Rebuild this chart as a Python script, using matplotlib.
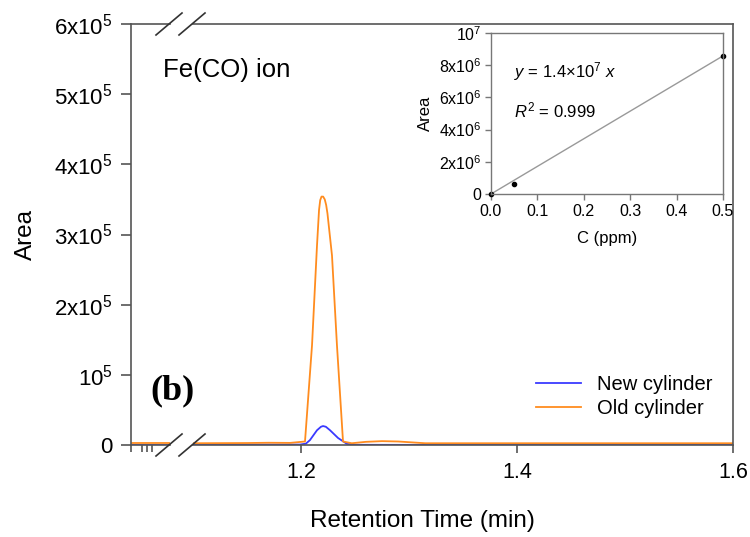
import numpy as np
import matplotlib
matplotlib.use("Agg")
import matplotlib.pyplot as plt
from matplotlib.lines import Line2D

plt.rcParams['font.family'] = ['Liberation Sans', 'DejaVu Sans']
plt.rcParams['mathtext.fontset'] = 'custom'
plt.rcParams['mathtext.rm'] = 'Liberation Sans'
plt.rcParams['mathtext.it'] = 'Liberation Sans:italic'
plt.rcParams['mathtext.default'] = 'regular'

# ---- data ----
new_t = [1.10, 1.15, 1.199, 1.2046, 1.2083, 1.2148, 1.2185, 1.2204, 1.2230, 1.2269, 1.2343, 1.2426, 1.25, 1.30, 1.40, 1.50, 1.60]
new_a = [500, 500, 600, 2000, 7000, 21000, 26000, 27000, 26000, 21000, 10000, 1500, 300, 200, 200, 200, 200]

old_t = [1.10, 1.15, 1.17, 1.19, 1.2037, 1.2102, 1.2148, 1.2167, 1.2178, 1.2190, 1.2205, 1.2220, 1.2233, 1.2245,
         1.2287, 1.2333, 1.2389, 1.247, 1.26, 1.275, 1.29, 1.30, 1.315, 1.40, 1.50, 1.60]
old_a = [2500, 2800, 3200, 3000, 5000, 142000, 284000, 335000, 349000, 354000, 354000, 350000, 342000, 330000,
         270000, 142000, 5000, 2500, 4500, 5500, 5000, 4000, 2500, 2500, 2500, 2500]

left_new = [500, 500]
left_old = [2500, 2500]

conc = [0.0, 0.05, 0.5]
area_cal = [0.0, 6.4e5, 8.6e6]

yticks = [0, 1e5, 2e5, 3e5, 4e5, 5e5, 6e5]
ytick_labels = ['0', '10$^5$', '2x10$^5$', '3x10$^5$', '4x10$^5$', '5x10$^5$', '6x10$^5$']
xticks = [1.2, 1.4, 1.6]
in_yticks = [0, 2e6, 4e6, 6e6, 8e6, 1e7]
in_ylabels = ['0', '2x10$^6$', '4x10$^6$', '6x10$^6$', '8x10$^6$', '10$^7$']
in_xticks = [0.0, 0.1, 0.2, 0.3, 0.4, 0.5]

blue = '#3a3aff'
orange = '#ff8c1f'
spine_c = '#555555'

fig = plt.figure(figsize=(7.5, 5.37), dpi=100)
W, H = 750, 537

def pos(x0, x1, y0, y1):
    return [x0 / W, 1 - y1 / H, (x1 - x0) / W, (y1 - y0) / H]

axL = fig.add_axes(pos(131, 170, 24, 445))
axR = fig.add_axes(pos(193, 733, 24, 445))

for ax in (axL, axR):
    ax.set_ylim(0, 6e5)
    ax.set_facecolor('none')
    for s in ax.spines.values():
        s.set_color(spine_c)
        s.set_linewidth(1.2)

axL.plot([0, 1], left_new, color=blue, lw=1.3)
axL.plot([0, 1], left_old, color=orange, lw=1.3)
axL.set_xlim(0, 1)
axL.spines['right'].set_visible(False)
axL.set_xticks([0, 0.27, 0.40, 0.53])
axL.set_xticklabels([])
axL.tick_params(axis='x', direction='out', length=5, color=spine_c, width=1.2)
axL.set_yticks(yticks)
axL.set_yticklabels(ytick_labels, fontsize=16)
axL.tick_params(axis='y', direction='out', length=7, color=spine_c, width=1.2, pad=6)
axL.set_ylabel('Area', fontsize=17.5)
axL.yaxis.set_label_coords(-2.4, 0.5)

axR.plot(new_t, new_a, color=blue, lw=1.3, label='New cylinder')
axR.plot(old_t, old_a, color=orange, lw=1.3, label='Old cylinder')
axR.set_xlim(1.1, 1.6)
axR.spines['left'].set_visible(False)
axR.set_yticks([])
axR.set_xticks(xticks)
axR.set_xticklabels(['1.2', '1.4', '1.6'], fontsize=15.5)
axR.tick_params(axis='x', direction='out', length=6, color=spine_c, width=1.2, pad=6)
axR.set_xlabel('Retention Time (min)', fontsize=17.5)
axR.xaxis.set_label_coords((422 - 193) / (733 - 193), -0.155)

leg = axR.legend(loc='lower right', bbox_to_anchor=(0.995, 0.02), frameon=False,
                 fontsize=14.5, handlelength=2.2, handletextpad=0.8, labelspacing=0.25)

# break marks
for yc in (24, 445):
    for xc in (169, 192):
        fig.add_artist(Line2D([(xc - 13) / W, (xc + 13) / W],
                              [1 - (yc + 11) / H, 1 - (yc - 11) / H],
                              color='#333333', lw=1.2))

fig.text(163 / W, 1 - 70 / H, 'Fe(CO) ion', fontsize=18.5, va='center', ha='left')
fig.text(150 / W, 1 - 391 / H, '(b)', fontsize=26, fontweight='bold',
         family='Liberation Serif', va='center', ha='left')

# inset
axI = fig.add_axes(pos(491, 723, 33, 194))
for s in axI.spines.values():
    s.set_color('#777777')
    s.set_linewidth(1.0)
cx = np.array(conc)
cy = np.array(area_cal)
slope = np.sum(cx * cy) / np.sum(cx * cx)
xl = np.array([0.0, 0.5])
axI.plot(xl, slope * xl, color='#999999', lw=1.0)
axI.plot(conc, area_cal, 'o', color='black', ms=3, clip_on=False)
axI.set_xlim(0, 0.5)
axI.set_ylim(0, 1e7)
axI.set_xticks(in_xticks)
axI.set_xticklabels(['0.0', '0.1', '0.2', '0.3', '0.4', '0.5'], fontsize=11.5)
axI.set_yticks(in_yticks)
axI.set_yticklabels(in_ylabels, fontsize=11.5)
axI.tick_params(direction='out', length=4, color='#777777', width=1.0, pad=3)
axI.set_xlabel('C (ppm)', fontsize=12, labelpad=9)
axI.set_ylabel('Area', fontsize=12, labelpad=4)
axI.text(0.1, 0.76, '$\\it{y}$ = 1.4×10$^7$ $\\it{x}$', transform=axI.transAxes,
         fontsize=12, va='center')
axI.text(0.1, 0.52, '$\\it{R}^2$ = 0.999', transform=axI.transAxes,
         fontsize=12, va='center')

fig.savefig('out.png', dpi=100)
